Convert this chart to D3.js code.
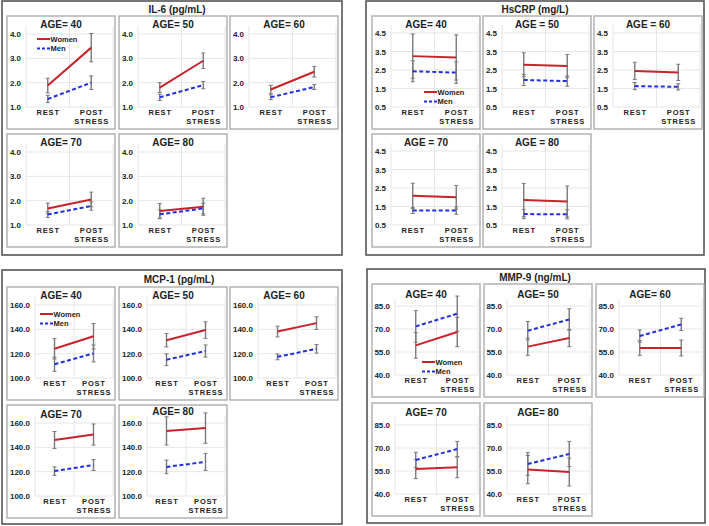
<!DOCTYPE html>
<html>
<head>
<meta charset="utf-8">
<script src="https://cdn.jsdelivr.net/npm/d3@7"></script>
<style>
  body { margin: 0; background: #fff; }
  svg { display: block; font-family: "Liberation Sans", Arial, sans-serif; }
</style>
</head>
<body>
<svg id="chart" width="709" height="526"></svg>
<script>
const conditions = ['REST', 'POST STRESS'];
const ages = [40, 50, 60, 70, 80];
const seriesNames = ['Women', 'Men'];

// IL-6 (pg/mL), one [rest, post] pair per age
const il6Ticks = [1, 2, 3, 4];
const il6Women = [[1.88, 3.44], [1.8, 2.9], [1.72, 2.45], [1.68, 2.05], [1.58, 1.75]];
const il6Men = [[1.33, 2.0], [1.4, 1.9], [1.4, 1.82], [1.43, 1.78], [1.44, 1.68]];
const il6WomenErr = [[0.3, 0.58], [0.2, 0.32], [0.17, 0.22], [0.22, 0.3], [0.3, 0.35]];
const il6MenErr = [[0.15, 0.28], [0.13, 0.15], [0.1, 0.1], [0.12, 0.17], [0.18, 0.22]];

// HsCRP (mg/L)
const crpTicks = [0.5, 1.5, 2.5, 3.5, 4.5];
const crpWomen = [[3.25, 3.18], [2.78, 2.72], [2.45, 2.37], [2.08, 2.0], [1.85, 1.77]];
const crpMen = [[2.43, 2.36], [1.96, 1.9], [1.63, 1.59], [1.28, 1.28], [1.09, 1.08]];
const crpWomenErr = [[1.2, 1.22], [0.65, 0.62], [0.47, 0.44], [0.68, 0.64], [0.9, 0.84]];
const crpMenErr = [[0.57, 0.58], [0.3, 0.28], [0.19, 0.17], [0.16, 0.2], [0.25, 0.25]];

// MCP-1 (pg/mL)
const mcpTicks = [100, 120, 140, 160];
const mcpWomen = [[124, 134.3], [131, 139.4], [138.2, 145.1], [146, 150.5], [153.5, 155.8]];
const mcpMen = [[111.3, 120.2], [115, 122.2], [117.4, 124], [120.5, 125.5], [123.9, 128]];
const mcpWomenErr = [[8.4, 10.5], [5.5, 6.8], [4.4, 5.2], [7, 8.7], [11.6, 12.5]];
const mcpMenErr = [[5.8, 7], [4.8, 5], [2.4, 3.5], [3.5, 4.5], [5.6, 7]];

// MMP-9 (ng/mL)
const mmpTicks = [40, 55, 70, 85];
const mmpWomen = [[59.3, 68], [58.5, 64.1], [57.6, 57.6], [56.3, 57.4], [55.9, 54.3]];
const mmpMen = [[71.7, 80], [68.9, 76.2], [65.4, 73], [62.2, 69.3], [59.6, 66.1]];
const mmpWomenErr = [[8.4, 9.5], [5.7, 5.6], [4.8, 5.2], [6.3, 6.8], [9.2, 9.1]];
const mmpMenErr = [[10.3, 11.5], [6, 7], [4, 4], [5, 5], [7.4, 8.2]];

const defaultAgeLabels = ages.map((a) => `AGE= ${a}`);
const crpAgeLabels = ['AGE= 40', 'AGE = 50', 'AGE = 60', 'AGE = 70', 'AGE = 80'];

const WOMEN_COLOR = '#c8232b';
const MEN_COLOR = '#2330e0';
const ERR_COLOR = '#7a7a7a';
const GRID_COLOR = '#e6e6e6';
const TEXT_COLOR = '#222';

const SUB_W = 108;   // small multiple box
const SUB_H = 113;
const PLOT_BOTTOM = 91;
const PLOT_RIGHT = 106;

const panels = [
    {title: 'IL-6 (pg/mL)', box: [2, 1, 340, 254], titleAt: [177, 13],
     subX: [7, 119, 230], subY: [16, 134], left: 19, top: 18,
     ticks: il6Ticks, women: il6Women, men: il6Men, womenErr: il6WomenErr, menErr: il6MenErr,
     ageLabels: defaultAgeLabels, ageY: [12, 12, 12, 12, 12], legend: [30, 23]},
    {title: 'HsCRP (mg/L)', box: [366, 1, 338, 254], titleAt: [535, 13],
     subX: [372, 483, 594], subY: [16, 134], left: 19, top: 17,
     ticks: crpTicks, women: crpWomen, men: crpMen, womenErr: crpWomenErr, menErr: crpMenErr,
     ageLabels: crpAgeLabels, ageY: [12, 12, 12, 12, 12], legend: [52, 76]},
    {title: 'MCP-1 (pg/mL)', box: [2, 270, 340, 254], titleAt: [179, 283],
     subX: [7, 119, 230], subY: [287, 405], left: 28, top: 18,
     ticks: mcpTicks, women: mcpWomen, men: mcpMen, womenErr: mcpWomenErr, menErr: mcpMenErr,
     ageLabels: defaultAgeLabels, ageY: [12, 12, 12, 13, 10], legend: [33, 27]},
    {title: 'MMP-9 (ng/mL)', box: [367, 269, 338, 254], titleAt: [535, 281],
     subX: [372, 484, 596], subY: [284, 403], left: 23, top: 22,
     ticks: mmpTicks, women: mmpWomen, men: mmpMen, womenErr: mmpWomenErr, menErr: mmpMenErr,
     ageLabels: defaultAgeLabels, ageY: [14, 14, 14, 13, 13], legend: [50, 78]},
];

const svg = d3.select('#chart');

function drawSeries(g, x, y, values, errs, color, dashed) {
    const pts = conditions.map((c, j) => ({c: c, v: values[j], e: errs[j]}));
    const cx = (d) => x(d.c) + x.bandwidth() / 2;

    const bars = g.append('g');
    bars.selectAll('line.err')
        .data(pts)
        .join('line')
        .attr('x1', cx).attr('x2', cx)
        .attr('y1', (d) => y(d.v - d.e))
        .attr('y2', (d) => y(d.v + d.e))
        .attr('stroke', ERR_COLOR)
        .attr('stroke-width', 1.4);
    bars.selectAll('path.cap')
        .data(pts)
        .join('path')
        .attr('d', (d) => `M${cx(d) - 2},${y(d.v - d.e)}h4M${cx(d) - 2},${y(d.v + d.e)}h4`)
        .attr('stroke', ERR_COLOR)
        .attr('stroke-width', 1);

    // line is drawn later so it sits above every error bar
    return () => g.append('path')
        .datum(pts)
        .attr('d', d3.line().x(cx).y((d) => y(d.v)))
        .attr('fill', 'none')
        .attr('stroke', color)
        .attr('stroke-width', 2)
        .attr('stroke-dasharray', dashed ? '4,2.5' : null);
}

function drawSmall(p, i) {
    const bx = p.subX[i % 3];
    const by = p.subY[Math.floor(i / 3)];
    const g = svg.append('g').attr('transform', `translate(${bx},${by})`);

    g.append('rect')
        .attr('width', SUB_W)
        .attr('height', SUB_H)
        .attr('fill', '#fff')
        .attr('stroke', '#adadad')
        .attr('stroke-width', 1.4);

    const x = d3.scaleBand().domain(conditions).range([p.left, PLOT_RIGHT]);
    const y = d3.scaleLinear()
        .domain([p.ticks[0], p.ticks[p.ticks.length - 1]])
        .range([PLOT_BOTTOM, p.top]);

    // grid
    const grid = g.append('g').attr('stroke', GRID_COLOR).attr('stroke-width', 1);
    grid.selectAll('line.h')
        .data(p.ticks)
        .join('line')
        .attr('x1', p.left).attr('x2', PLOT_RIGHT)
        .attr('y1', (d) => y(d)).attr('y2', (d) => y(d));
    grid.selectAll('line.v')
        .data([p.left, x(conditions[1]), PLOT_RIGHT])
        .join('line')
        .attr('x1', (d) => d).attr('x2', (d) => d)
        .attr('y1', p.top - 8).attr('y2', PLOT_BOTTOM);

    // y axis labels
    const yAxis = g.append('g')
        .attr('transform', `translate(${p.left},0)`)
        .call(d3.axisLeft(y).tickValues(p.ticks).tickFormat(d3.format('.1f')).tickSize(0).tickPadding(5));
    yAxis.select('.domain').remove();
    yAxis.selectAll('text')
        .attr('fill', TEXT_COLOR)
        .attr('font-size', 8)
        .attr('font-weight', 'bold')
        .attr('font-family', '"Liberation Sans", Arial, sans-serif');

    // x axis labels, split on the space
    const xAxis = g.append('g')
        .attr('transform', `translate(0,${PLOT_BOTTOM})`)
        .call(d3.axisBottom(x).tickSize(0).tickPadding(8));
    xAxis.select('.domain').remove();
    xAxis.selectAll('text')
        .attr('fill', TEXT_COLOR)
        .attr('font-size', 7.5)
        .attr('font-weight', 'bold')
        .attr('letter-spacing', 0.8)
        .attr('font-family', '"Liberation Sans", Arial, sans-serif')
        .each(function (d) {
            const t = d3.select(this).text('');
            d.split(' ').forEach((w, k) => {
                t.append('tspan').attr('x', 0.4).attr('dy', k ? 9 : 0).text(w);
            });
        });

    g.append('text')
        .attr('x', SUB_W / 2)
        .attr('y', p.ageY[i])
        .attr('text-anchor', 'middle')
        .attr('font-size', 10)
        .attr('font-weight', 'bold')
        .attr('fill', TEXT_COLOR)
        .text(p.ageLabels[i]);

    const womenLine = drawSeries(g, x, y, p.women[i], p.womenErr[i], WOMEN_COLOR, false);
    const menLine = drawSeries(g, x, y, p.men[i], p.menErr[i], MEN_COLOR, true);
    menLine();
    womenLine();

    if (i === 0) drawLegend(g, p.legend);
}

function drawLegend(g, at) {
    const lg = g.append('g').attr('transform', `translate(${at[0]},${at[1]})`);
    const rows = lg.selectAll('g')
        .data(seriesNames)
        .join('g')
        .attr('transform', (_d, k) => `translate(0,${k * 9.5})`);
    rows.append('line')
        .attr('x1', 0).attr('x2', 13)
        .attr('stroke', (d) => d === 'Women' ? WOMEN_COLOR : MEN_COLOR)
        .attr('stroke-width', 2)
        .attr('stroke-dasharray', (d) => d === 'Men' ? '3,2' : null);
    rows.append('text')
        .attr('x', 13.5)
        .attr('dy', '0.35em')
        .attr('font-size', 7.5)
        .attr('font-weight', 'bold')
        .attr('fill', TEXT_COLOR)
        .text((d) => d);
}

panels.forEach((p) => {
    svg.append('rect')
        .attr('x', p.box[0]).attr('y', p.box[1])
        .attr('width', p.box[2]).attr('height', p.box[3])
        .attr('fill', '#fff')
        .attr('stroke', '#4a4a4a')
        .attr('stroke-width', 1.5);
    svg.append('text')
        .attr('x', p.titleAt[0])
        .attr('y', p.titleAt[1])
        .attr('text-anchor', 'middle')
        .attr('font-size', 10)
        .attr('font-weight', 'bold')
        .attr('fill', TEXT_COLOR)
        .text(p.title);
    ages.forEach((_a, i) => drawSmall(p, i));
});
</script>
</body>
</html>
